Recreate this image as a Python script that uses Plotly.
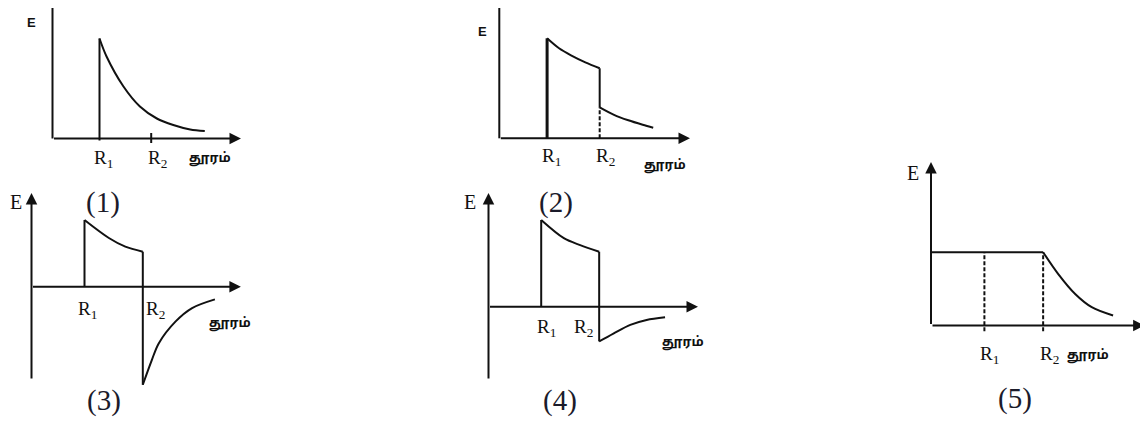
import plotly.graph_objects as go

W, H = 1148, 427
OFF = 8                      # page body margin in the browser
WF, HF = W - OFF, H - OFF    # figure size actually drawn

# ---------------- data (distance in units of R1, E normalised per panel) ----------------
R1 = 1.0
R2 = 2.1
dist_label = "தூரம்"
panel_names = ["(1)", "(2)", "(3)", "(4)", "(5)"]

# panel 1
p1_r = [1.0, 1.15, 1.51, 1.86, 2.22, 2.57, 2.93, 3.24]
p1_E = [1.0, 0.82, 0.52, 0.32, 0.20, 0.135, 0.09, 0.075]

# panel 2
p2_in_r = [1.0, 1.25, 1.5, 1.8, 2.1]
p2_in_E = [1.0, 0.90, 0.83, 0.76, 0.70]
p2_out_r = [2.1, 2.4, 2.7, 3.0, 3.22]
p2_out_E = [0.31, 0.235, 0.18, 0.135, 0.105]

# panel 3
p3_in_r = [1.0, 1.46, 1.77, 2.1]
p3_in_E = [1.0, 0.73, 0.60, 0.525]
p3_out_r = [2.1, 2.27, 2.40, 2.72, 3.03, 3.46]
p3_out_E = [-1.47, -1.10, -0.85, -0.52, -0.32, -0.19]

# panel 4
p4_in_r = [1.0, 1.43, 1.74, 2.1]
p4_in_E = [1.0, 0.79, 0.71, 0.634]
p4_out_r = [2.1, 2.37, 2.69, 3.0, 3.35]
p4_out_E = [-0.40, -0.31, -0.21, -0.153, -0.122]

# panel 5
p5_flat_r = [0.0, 2.1]
p5_flat_E = [1.0, 1.0]
p5_out_r = [2.1, 2.38, 2.70, 3.01, 3.41]
p5_out_E = [1.0, 0.705, 0.43, 0.25, 0.136]

# ---------------- layout geometry (page pixels) ----------------
panels = [
    dict(ox=52.5, oy=138.5, sx=47.0, sy=100.0, box=(8, 260, 8, 180), xt=4.01, yb=0.0, yt=1.335, yarrow=False),
    dict(ox=499.3, oy=138.3, sx=47.8, sy=100.0, box=(455, 720, 8, 180), xt=3.99, yb=0.0, yt=1.333, yarrow=False),
    dict(ox=31.5, oy=286.7, sx=53.0, sy=66.7, box=(8, 275, 185, 427), xt=3.95, yb=-1.40, yt=1.405, yarrow=True),
    dict(ox=488.5, oy=306.7, sx=52.7, sy=86.7, box=(455, 720, 185, 427), xt=3.975, yb=-0.845, yt=1.31, yarrow=True),
    dict(ox=931.0, oy=325.5, sx=53.4, sy=73.3, box=(880, 1148, 140, 427), xt=4.0, yb=0.0, yt=2.23, yarrow=True),
]


def fx(px):
    return (px - OFF) / WF


def fy(py):
    return 1 - (py - OFF) / HF


fig = go.Figure()
layout = {}
annotations = []
shapes = []

BLACK = "#111111"
SERIF = "Liberation Serif, Times New Roman, serif"
SANS = "Liberation Sans, Arial, sans-serif"
TAMIL = "Noto Sans Tamil, Lohit Tamil, Latha, Noto Sans, sans-serif"

for i, p in enumerate(panels, start=1):
    l, r, t, b = p["box"]
    xa = "xaxis" if i == 1 else f"xaxis{i}"
    ya = "yaxis" if i == 1 else f"yaxis{i}"
    xr = "x" if i == 1 else f"x{i}"
    yr = "y" if i == 1 else f"y{i}"
    layout[xa] = dict(domain=[fx(l), fx(r)], range=[(l - p["ox"]) / p["sx"], (r - p["ox"]) / p["sx"]],
                      visible=False, fixedrange=True, anchor=yr)
    layout[ya] = dict(domain=[fy(b), fy(t)], range=[(p["oy"] - b) / p["sy"], (p["oy"] - t) / p["sy"]],
                      visible=False, fixedrange=True, anchor=xr)
    p["xr"], p["yr"] = xr, yr
    # x axis with arrow
    annotations.append(dict(x=p["xt"], y=0, ax=0, ay=0, xref=xr, yref=yr, axref=xr, ayref=yr,
                            text="", showarrow=True, arrowhead=2, arrowsize=1.15, arrowwidth=2,
                            arrowcolor=BLACK, standoff=0))
    # y axis
    if p["yarrow"]:
        annotations.append(dict(x=0, y=p["yt"], ax=0, ay=p["yb"], xref=xr, yref=yr, axref=xr, ayref=yr,
                                text="", showarrow=True, arrowhead=2, arrowsize=1.15, arrowwidth=2,
                                arrowcolor=BLACK, standoff=0))
    else:
        shapes.append(dict(type="line", xref=xr, yref=yr, x0=0, x1=0, y0=p["yb"], y1=p["yt"],
                           line=dict(color=BLACK, width=2)))


def line(i, xs, ys, width=2, dash="solid", smooth=False):
    p = panels[i - 1]
    fig.add_trace(go.Scatter(x=xs, y=ys, mode="lines", xaxis=p["xr"], yaxis=p["yr"],
                             line=dict(color=BLACK, width=width, dash=dash,
                                       shape="spline" if smooth else "linear", smoothing=0.9),
                             hoverinfo="skip", showlegend=False))


DASH = "4px,2px"

# panel 1
line(1, [R1, R1], [-0.02, p1_E[0]])
line(1, p1_r, p1_E, smooth=True)
line(1, [R2, R2], [-0.045, 0.055])

# panel 2
line(2, [R1, R1], [0, p2_in_E[0]], width=3)
line(2, p2_in_r, p2_in_E, smooth=True)
line(2, [R2, R2], [p2_out_E[0], p2_in_E[-1]])
line(2, [R2, R2], [0, p2_out_E[0]], width=2, dash=DASH)
line(2, p2_out_r, p2_out_E, smooth=True)

# panel 3
line(3, [R1, R1], [0, p3_in_E[0]])
line(3, p3_in_r, p3_in_E, smooth=True)
line(3, [R2, R2], [p3_out_E[0], p3_in_E[-1]])
line(3, p3_out_r, p3_out_E, smooth=True)

# panel 4
line(4, [R1, R1], [0, p4_in_E[0]])
line(4, p4_in_r, p4_in_E, smooth=True)
line(4, [R2, R2], [p4_out_E[0], p4_in_E[-1]])
line(4, p4_out_r, p4_out_E, smooth=True)

# panel 5
line(5, p5_flat_r, p5_flat_E)
line(5, p5_out_r, p5_out_E, smooth=True)
line(5, [R1, R1], [-0.08, p5_flat_E[0]], width=2, dash=DASH)
line(5, [R2, R2], [-0.08, p5_flat_E[0]], width=2, dash=DASH)


def text(i, x, y, s, size, family, xshift=0, yshift=0):
    """Label placed at data point (x, y) of panel i, nudged by pixels; converted to paper coords."""
    p = panels[i - 1]
    px = p["ox"] + x * p["sx"] + xshift
    py = p["oy"] - y * p["sy"] - yshift
    annotations.append(dict(x=fx(px), y=fy(py), xref="paper", yref="paper", text=s, showarrow=False,
                            xanchor="center", yanchor="middle",
                            font=dict(size=size, family=family, color=BLACK)))


R1T = "R<sub>1</sub>"
R2T = "R<sub>2</sub>"

# panel 1 labels
text(1, -0.44, 1.165, "<b>E</b>", 13, SANS)
text(1, R1, 0, R1T, 19, SERIF, xshift=4, yshift=-20)
text(1, R2, 0, R2T, 19, SERIF, xshift=6, yshift=-20)
text(1, 3.35, 0, f"<b>{dist_label}</b>", 13, TAMIL, yshift=-20)

# panel 2 labels
text(2, -0.36, 1.07, "<b>E</b>", 13, SANS)
text(2, R1, 0, R1T, 19, SERIF, xshift=4, yshift=-19)
text(2, R2, 0, R2T, 19, SERIF, xshift=6, yshift=-19)
text(2, 3.47, 0, f"<b>{dist_label}</b>", 13, TAMIL, yshift=-28)

# panel 3 labels
text(3, -0.29, 1.27, "E", 20, SERIF)
text(3, R1, 0, R1T, 19, SERIF, xshift=3, yshift=-23)
text(3, R2, 0, R2T, 19, SERIF, xshift=13, yshift=-23)
text(3, 3.75, 0, f"<b>{dist_label}</b>", 13, TAMIL, yshift=-37)

# panel 4 labels
text(4, -0.35, 1.21, "E", 20, SERIF)
text(4, R1, 0, R1T, 19, SERIF, xshift=5, yshift=-21)
text(4, R2, 0, R2T, 19, SERIF, xshift=-16, yshift=-21)
text(4, 3.69, 0, f"<b>{dist_label}</b>", 13, TAMIL, yshift=-36)

# panel 5 labels
text(5, -0.34, 2.08, "E", 20, SERIF)
text(5, R1, 0, R1T, 19, SERIF, xshift=5, yshift=-29)
text(5, R2, 0, R2T, 19, SERIF, xshift=6, yshift=-29)
text(5, 2.94, 0, f"<b>{dist_label}</b>", 13, TAMIL, yshift=-30)

# panel numbers (page pixel centres -> paper coords)
num_pos = [(103, 202), (556, 202), (104, 400), (560, 400), (1015, 398)]
for name, (px, py) in zip(panel_names, num_pos):
    annotations.append(dict(x=fx(px), y=fy(py), xref="paper", yref="paper", text=name,
                            showarrow=False, xanchor="center", yanchor="middle",
                            font=dict(size=29, family=SERIF, color="#1b1b2a")))

fig.update_layout(width=WF, height=HF, margin=dict(l=0, r=0, t=0, b=0),
                  paper_bgcolor="white", plot_bgcolor="rgba(0,0,0,0)",
                  showlegend=False, annotations=annotations, shapes=shapes, **layout)

fig.write_html("out.html", config={"displayModeBar": False})
